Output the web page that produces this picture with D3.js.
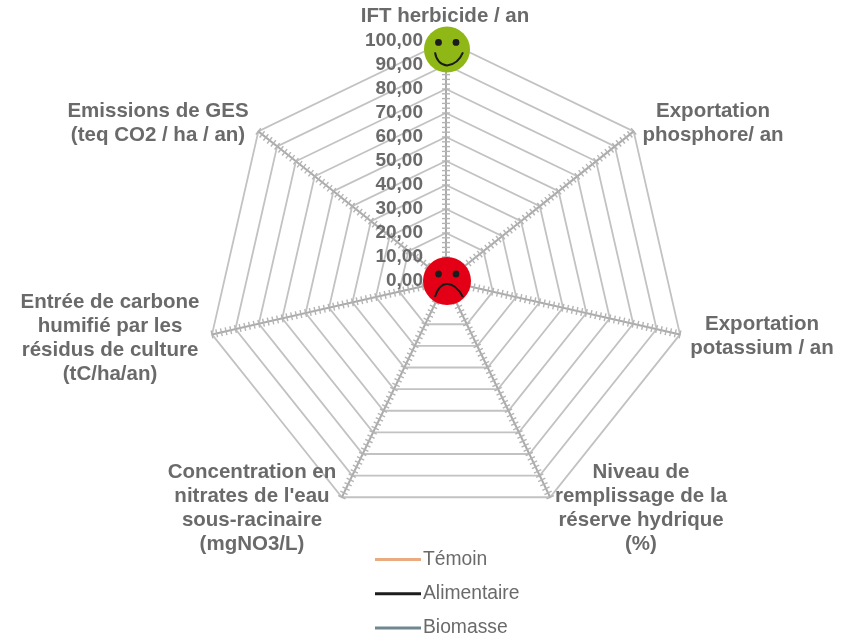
<!DOCTYPE html>
<html>
<head>
<meta charset="utf-8">
<script src="https://cdn.jsdelivr.net/npm/d3@7"></script>
<style>
  html, body { margin: 0; padding: 0; background: #fff; }
  svg { display: block; }
</style>
</head>
<body>
<script>
// axes, clockwise from the top
var categories = [
  ['IFT herbicide / an'],
  ['Exportation', 'phosphore/ an'],
  ['Exportation', 'potassium / an'],
  ['Niveau de', 'remplissage de la', 'réserve hydrique', '(%)'],
  ['Concentration en', "nitrates de l'eau", 'sous-racinaire', '(mgNO3/L)'],
  ['Entrée de carbone', 'humifié par les', 'résidus de culture', '(tC/ha/an)'],
  ['Emissions de GES', '(teq CO2 / ha / an)']
];
var tickValues = [0, 10, 20, 30, 40, 50, 60, 70, 80, 90, 100];
var tickLabels = ['0,00', '10,00', '20,00', '30,00', '40,00', '50,00', '60,00', '70,00', '80,00', '90,00', '100,00'];
var minorStep = 2;
var seriesNames = ['Témoin', 'Alimentaire', 'Biomasse'];
var seriesColors = ['#e9ab7f', '#1a1a1a', '#6f8790'];
var goodValue = 96.5, badValue = 0;

// label anchors (centre x, first baseline y), one per axis
var labelX = [445, 713, 762, 641, 252, 110, 158];
var labelY = [22, 117, 330, 478, 478, 308, 117];

var width = 846, height = 637, cx = 446, cy = 281, radius = 240;
var textColor = '#6a6a6a';

var svg = d3.select('body').append('svg')
  .attr('width', width)
  .attr('height', height);

var defs = svg.append('defs');
defs.append('filter').attr('id', 'soft')
  .append('feGaussianBlur').attr('stdDeviation', 0.55);

var root = svg.append('g').attr('filter', 'url(#soft)');
var g = root.append('g').attr('transform', 'translate(' + cx + ',' + cy + ')');

var rScale = d3.scaleLinear().domain([0, 100]).range([0, radius]);
var angle = d3.scaleLinear().domain([0, categories.length]).range([0, 2 * Math.PI]);

function px(i, v) { return rScale(v) * Math.sin(angle(i)); }
function py(i, v) { return -rScale(v) * Math.cos(angle(i)); }

// rings
g.selectAll('.ring').data(tickValues.slice(1)).enter().append('polygon')
  .attr('class', 'ring')
  .attr('points', function (v) {
    return categories.map(function (c, i) { return px(i, v) + ',' + py(i, v); }).join(' ');
  })
  .attr('fill', 'none')
  .attr('stroke', '#c2c2c2')
  .attr('stroke-width', 1.8);

// spokes with the small tick marks
var minorTicks = d3.range(0, 100 + minorStep, minorStep);
categories.forEach(function (c, i) {
  var a = g.append('g');
  a.append('line')
    .attr('x1', 0).attr('y1', 0)
    .attr('x2', px(i, 100)).attr('y2', py(i, 100))
    .attr('stroke', '#ababab')
    .attr('stroke-width', 2);
  var nx = Math.cos(angle(i)), ny = Math.sin(angle(i));
  a.selectAll('line.minor').data(minorTicks).enter().append('line')
    .attr('class', 'minor')
    .attr('x1', function (v) { return px(i, v) - nx * 4; })
    .attr('y1', function (v) { return py(i, v) - ny * 4; })
    .attr('x2', function (v) { return px(i, v) + nx * 4; })
    .attr('y2', function (v) { return py(i, v) + ny * 4; })
    .attr('stroke', '#b4b4b4')
    .attr('stroke-width', 1.4);
});

// value labels on the top axis
g.selectAll('.tick-label').data(tickValues).enter().append('text')
  .attr('class', 'tick-label')
  .text(function (d, i) { return tickLabels[i]; })
  .attr('x', -23)
  .attr('y', function (d) { return -rScale(d) + 5; })
  .attr('text-anchor', 'end')
  .attr('font-family', 'Liberation Sans')
  .attr('font-weight', 'bold')
  .attr('font-size', 19)
  .attr('fill', textColor);

// axis titles
var titles = root.selectAll('.axis-title').data(categories).enter().append('text')
  .attr('class', 'axis-title')
  .attr('text-anchor', 'middle')
  .attr('font-family', 'Liberation Sans')
  .attr('font-weight', 'bold')
  .attr('font-size', 20.5)
  .attr('fill', textColor);
titles.each(function (lines, i) {
  d3.select(this).selectAll('tspan').data(lines).enter().append('tspan')
    .attr('x', labelX[i])
    .attr('y', function (d, j) { return labelY[i] + j * 24; })
    .text(function (d) { return d; });
});

// faces
function face(v, fill, mouth, r) {
  var f = g.append('g').attr('transform', 'translate(1,' + (py(0, v)) + ')');
  f.append('circle').attr('r', r).attr('fill', fill);
  f.selectAll('.eye').data([-8.5, 9]).enter().append('circle')
    .attr('class', 'eye')
    .attr('cx', function (d) { return d; })
    .attr('cy', -7)
    .attr('r', 3.4)
    .attr('fill', '#1a1a1a');
  f.append('path')
    .attr('d', mouth)
    .attr('fill', 'none')
    .attr('stroke', '#1a1a1a')
    .attr('stroke-width', 2);
}
face(goodValue, '#8fb814', 'M-12,3 Q-10,15 0,16 Q11,15 16,3', 23);
face(badValue, '#e30613', 'M-12,16 Q-8,3 0,3 Q9,3 16,16', 24);

// legend
var legendY = d3.scalePoint().domain(seriesNames).range([559.5, 628]);
var legend = root.selectAll('.legend').data(seriesNames).enter().append('g')
  .attr('class', 'legend')
  .attr('transform', function (d) { return 'translate(375,' + legendY(d) + ')'; });
legend.append('line')
  .attr('x1', 0).attr('x2', 46)
  .attr('stroke', function (d, i) { return seriesColors[i]; })
  .attr('stroke-width', 3);
legend.append('text')
  .text(function (d) { return d; })
  .attr('x', 423 - 375)
  .attr('y', 5)
  .attr('font-family', 'Liberation Sans')
  .attr('font-size', 19.3)
  .attr('fill', textColor);
</script>
</body>
</html>
